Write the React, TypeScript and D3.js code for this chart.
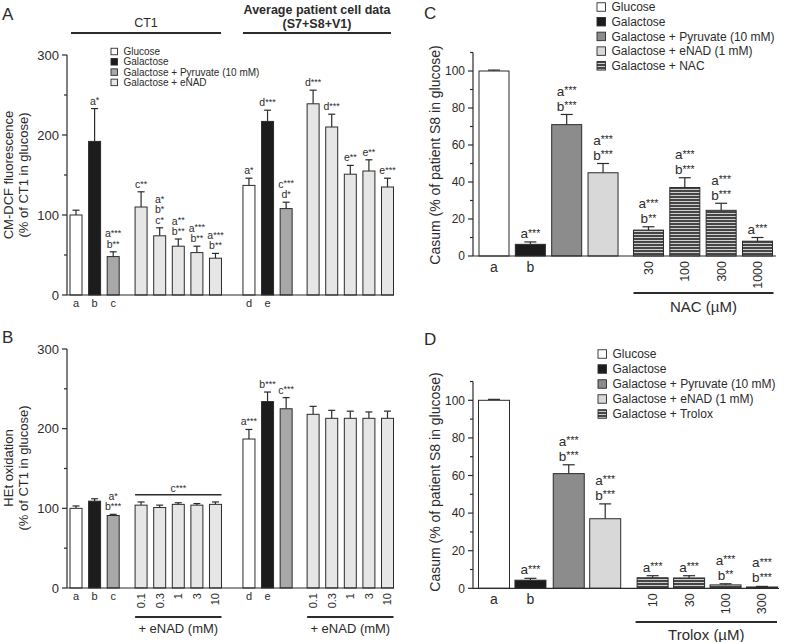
import React, { useEffect, useRef } from "react";
import * as d3 from "d3";

// ---------- Panel A: CM-DCF fluorescence (% of CT1 in glucose) ----------
const aGroups = ["glc", "gal", "pyr", "enad", "enad", "enad", "enad", "enad", "glc", "gal", "pyr", "enad", "enad", "enad", "enad", "enad"];
const aSlots = [0, 1, 2, 3.5, 4.5, 5.5, 6.5, 7.5, 9.3, 10.3, 11.3, 12.75, 13.75, 14.75, 15.75, 16.75];
const aValues = [100, 192, 48, 110, 74, 61, 53, 46, 137, 217, 108, 239, 210, 151, 155, 135];
const aErrors = [6, 41, 6, 19, 10, 9, 8, 6, 9, 14, 8, 17, 16, 11, 14, 11];
const aStats = [[], ["a*"], ["a***", "b**"], ["c**"], ["a*", "b*", "c*"], ["a**", "b**"], ["a***", "b**"], ["a***", "b**"], ["a*"], ["d***"], ["c***", "d*"], ["d***"], ["d***"], ["e**"], ["e**"], ["e***"]];
const aLetters = ["a", "b", "c", "", "", "", "", "", "d", "e", "", "", "", "", "", ""];
const aLegend = ["Glucose", "Galactose", "Galactose + Pyruvate (10 mM)", "Galactose + eNAD"];

// ---------- Panel B: HEt oxidation ----------
const bValues = [100, 109, 91, 104, 101, 105, 104, 105, 187, 234, 225, 218, 213, 213, 213, 213];
const bErrors = [3, 3, 1.5, 4, 3, 2, 2, 3, 12, 12, 14, 10, 10, 9, 8, 9];
const bStats = [[], [], ["a*", "b***"], [], [], [], [], [], ["a***"], ["b***"], ["c***"], [], [], [], [], []];
const bDoses = ["", "", "", "0.1", "0.3", "1", "3", "10", "", "", "", "0.1", "0.3", "1", "3", "10"];

// ---------- Panel C: Casum with NAC ----------
const cGroups = ["glc", "gal", "pyr", "enad", "stripe", "stripe", "stripe", "stripe"];
const cSlots = [0, 1, 2, 3, 4.25, 5.25, 6.25, 7.25];
const cValues = [100, 6.3, 71, 45, 14, 37, 24.7, 8];
const cErrors = [0.5, 1.3, 5.5, 5, 1.8, 5.3, 3.8, 2];
const cStats = [[], ["a***"], ["a***", "b***"], ["a***", "b***"], ["a***", "b**"], ["a***", "b***"], ["a***", "b***"], ["a***"]];
const cLetters = ["a", "b", "", "", "", "", "", ""];
const cDoses = ["", "", "", "", "30", "100", "300", "1000"];
const cLegend = ["Glucose", "Galactose", "Galactose + Pyruvate (10 mM)", "Galactose + eNAD (1 mM)", "Galactose + NAC"];

// ---------- Panel D: Casum with Trolox ----------
const dSlots = [0, 1, 2.05, 3.05, 4.35, 5.35, 6.35, 7.35];
const dValues = [100, 4.3, 61, 37, 5.6, 5.5, 1.8, 0.7];
const dErrors = [0.5, 1.0, 4.7, 7.9, 1.1, 1.2, 0.6, 0.3];
const dStats = [[], ["a***"], ["a***", "b***"], ["a***", "b***"], ["a***"], ["a***"], ["a***", "b**"], ["a***", "b***"]];
const dDoses = ["", "", "", "", "10", "30", "100", "300"];
const dLegend = ["Glucose", "Galactose", "Galactose + Pyruvate (10 mM)", "Galactose + eNAD (1 mM)", "Galactose + Trolox"];

const FONT = "'Liberation Sans', Arial, sans-serif";
const INK = "#2b2b2b";

const fillsAB: Record<string, string> = { glc: "#ffffff", gal: "#1c1c1c", pyr: "#a8a8a8", enad: "#e6e6e6" };
const fillsCD: Record<string, string> = { glc: "#ffffff", gal: "#1c1c1c", pyr: "#8c8c8c", enad: "#d8d8d8", stripe: "url(#stripes)" };

type G = d3.Selection<SVGGElement, unknown, null, undefined>;

// label like a*** with slightly raised, smaller stars
function statText(g: G, x: number, y: number, s: string, fs: number, sfs: number) {
  const m = s.match(/^([a-z])(\*+)$/);
  const t = g.append("text").attr("x", x).attr("y", y).attr("text-anchor", "middle")
    .style("font-size", fs + "px").attr("fill", INK);
  t.append("tspan").text(m ? m[1] : s);
  if (m) t.append("tspan").attr("dy", -fs * 0.12).style("font-size", sfs + "px").text(m[2]);
}

interface PanelCfg {
  values: number[]; errors: number[]; groups: string[]; slots: number[];
  xRange: [number, number]; yDomain: [number, number]; yRange: [number, number];
  axisX: number; axisEnd: number; barW: number; capW: number; fills: Record<string, string>;
  stats: string[][]; statFs: number; starFs: number; statGap: number; lineH: number;
  yTicks: number[]; yMinor: number[]; tickFs: number;
  letters?: string[]; letterDy?: number; letterFs?: number;
  doses?: string[]; doseFs?: number;
}

function drawPanel(g: G, c: PanelCfg) {
  const x = d3.scaleLinear().domain([c.slots[0], c.slots[c.slots.length - 1]]).range(c.xRange);
  const y = d3.scaleLinear().domain(c.yDomain).range(c.yRange);
  const y0 = y(0);

  // y axis
  g.append("line").attr("x1", c.axisX).attr("x2", c.axisX).attr("y1", y0).attr("y2", y(c.yDomain[1]))
    .attr("stroke", INK).attr("stroke-width", 1.2);
  c.yTicks.forEach((t) => {
    g.append("line").attr("x1", c.axisX - 5).attr("x2", c.axisX).attr("y1", y(t)).attr("y2", y(t)).attr("stroke", INK).attr("stroke-width", 1.2);
    g.append("text").attr("x", c.axisX - 8).attr("y", y(t)).attr("dy", "0.35em").attr("text-anchor", "end")
      .style("font-size", c.tickFs + "px").attr("fill", INK).text(t);
  });
  c.yMinor.forEach((t) => {
    g.append("line").attr("x1", c.axisX - 3).attr("x2", c.axisX).attr("y1", y(t)).attr("y2", y(t)).attr("stroke", INK).attr("stroke-width", 1.2);
  });

  // bars + error bars
  c.values.forEach((v, i) => {
    const cx = x(c.slots[i]);
    const top = y(v + c.errors[i]);
    g.append("line").attr("x1", cx).attr("x2", cx).attr("y1", y(v)).attr("y2", top).attr("stroke", INK).attr("stroke-width", 1.2);
    g.append("line").attr("x1", cx - c.capW / 2).attr("x2", cx + c.capW / 2).attr("y1", top).attr("y2", top).attr("stroke", INK).attr("stroke-width", 1.2);
    g.append("rect").attr("x", cx - c.barW / 2).attr("y", y(v)).attr("width", c.barW).attr("height", Math.max(0.5, y0 - y(v)))
      .attr("fill", c.fills[c.groups[i]]).attr("stroke", INK).attr("stroke-width", 1);
    const st = c.stats[i];
    st.forEach((s, j) => {
      const by = top - c.statGap - (st.length - 1 - j) * c.lineH;
      statText(g, cx, by, s, c.statFs, c.starFs);
    });
    if (c.letters && c.letters[i]) {
      g.append("text").attr("x", cx).attr("y", y0 + (c.letterDy || 12)).attr("text-anchor", "middle")
        .style("font-size", (c.letterFs || 11) + "px").attr("fill", INK).text(c.letters[i]);
    }
    if (c.doses && c.doses[i]) {
      const ty = y0 + 5;
      g.append("text").attr("x", cx).attr("y", ty).attr("dy", "0.36em").attr("text-anchor", "end")
        .attr("transform", `rotate(-90, ${cx}, ${ty})`)
        .style("font-size", (c.doseFs || 11) + "px").attr("fill", INK).text(c.doses[i]);
    }
  });

  // x axis
  g.append("line").attr("x1", c.axisX).attr("x2", c.axisEnd).attr("y1", y0).attr("y2", y0).attr("stroke", INK).attr("stroke-width", 1.2);
  return { x, y };
}

function groupLine(g: G, x1: number, x2: number, ly: number, label: string, fs: number, dy: number) {
  g.append("line").attr("x1", x1).attr("x2", x2).attr("y1", ly).attr("y2", ly).attr("stroke", INK).attr("stroke-width", 2);
  g.append("text").attr("x", (x1 + x2) / 2).attr("y", ly + dy).attr("text-anchor", "middle")
    .style("font-size", fs + "px").attr("fill", INK).text(label);
}

function legend(g: G, items: string[], keys: string[], fills: Record<string, string>, lx: number, ly: number, step: number, sq: number, fs: number) {
  items.forEach((it, i) => {
    const cy = ly + i * step;
    g.append("rect").attr("x", lx).attr("y", cy - sq / 2).attr("width", sq).attr("height", sq)
      .attr("fill", fills[keys[i]]).attr("stroke", INK).attr("stroke-width", 0.9);
    g.append("text").attr("x", lx + sq + 6).attr("y", cy).attr("dy", "0.36em").style("font-size", fs + "px").attr("fill", INK).text(it);
  });
}

function yLabel(g: G, lx: number, cy: number, text: string, fs: number) {
  g.append("text").attr("transform", `translate(${lx},${cy}) rotate(-90)`).attr("text-anchor", "middle")
    .style("font-size", fs + "px").attr("fill", INK).text(text);
}

function panelLetter(g: G, lx: number, ly: number, t: string) {
  g.append("text").attr("x", lx).attr("y", ly).style("font-size", "17px").attr("fill", INK).text(t);
}

const App: React.FC = () => {
  const svgRef = useRef<SVGSVGElement | null>(null);

  useEffect(() => {
    const svg = d3.select(svgRef.current);
    svg.selectAll("*").remove();
    const defs = svg.append("defs");
    const pat = defs.append("pattern").attr("id", "stripes").attr("patternUnits", "userSpaceOnUse").attr("width", 6).attr("height", 3);
    pat.append("rect").attr("width", 6).attr("height", 3).attr("fill", "#454545");
    pat.append("rect").attr("y", 0).attr("width", 6).attr("height", 1).attr("fill", "#cfcfcf");

    const root = svg.append("g").style("font-family", FONT) as unknown as G;

    // ----- A -----
    const gA = root.append("g") as G;
    panelLetter(gA, 2, 20, "A");
    drawPanel(gA, {
      values: aValues, errors: aErrors, groups: aGroups, slots: aSlots,
      xRange: [76, 387.5], yDomain: [0, 300], yRange: [295, 55], axisX: 67, axisEnd: 394,
      barW: 12, capW: 7, fills: fillsAB, stats: aStats, statFs: 10.5, starFs: 9, statGap: 4, lineH: 10.5,
      yTicks: [0, 100, 200, 300], yMinor: [50, 150, 250], tickFs: 13,
      letters: aLetters, letterDy: 12, letterFs: 11,
    });
    groupLine(gA, 71, 221, 33, "CT1", 12.5, -6);
    gA.append("line").attr("x1", 243).attr("x2", 391).attr("y1", 33).attr("y2", 33).attr("stroke", INK).attr("stroke-width", 2);
    gA.append("text").attr("x", 317).attr("y", 14).attr("text-anchor", "middle").style("font-size", "12.5px").style("font-weight", "bold").attr("fill", INK).text("Average patient cell data");
    gA.append("text").attr("x", 317).attr("y", 28).attr("text-anchor", "middle").style("font-size", "12.5px").style("font-weight", "bold").attr("fill", INK).text("(S7+S8+V1)");
    legend(gA, aLegend, ["glc", "gal", "pyr", "enad"], fillsAB, 111, 51.5, 10.3, 6.5, 10);
    yLabel(gA, 13, 175, "CM-DCF fluorescence", 13);
    yLabel(gA, 28, 175, "(% of CT1 in glucose)", 13);

    // ----- B -----
    const gB = root.append("g") as G;
    panelLetter(gB, 2, 343, "B");
    const B = drawPanel(gB, {
      values: bValues, errors: bErrors, groups: aGroups, slots: aSlots,
      xRange: [76, 387.5], yDomain: [0, 300], yRange: [588, 349], axisX: 67, axisEnd: 394,
      barW: 12, capW: 7, fills: fillsAB, stats: bStats, statFs: 10.5, starFs: 9, statGap: 4, lineH: 10.5,
      yTicks: [0, 100, 200, 300], yMinor: [50, 150, 250], tickFs: 13,
      letters: aLetters, letterDy: 12, letterFs: 11, doses: bDoses, doseFs: 11,
    });
    const bx1 = B.x(aSlots[3]) - 6, bx2 = B.x(aSlots[7]) + 6;
    gB.append("line").attr("x1", bx1).attr("x2", bx2).attr("y1", B.y(117)).attr("y2", B.y(117)).attr("stroke", INK).attr("stroke-width", 1.5);
    statText(gB, (bx1 + bx2) / 2, B.y(117) - 3, "c***", 10.5, 9);
    groupLine(gB, bx1, bx2, 617, "+ eNAD (mM)", 13, 16);
    groupLine(gB, B.x(aSlots[11]) - 6, B.x(aSlots[15]) + 6, 617, "+ eNAD (mM)", 13, 16);
    yLabel(gB, 13, 468, "HEt oxidation", 13);
    yLabel(gB, 28, 468, "(% of CT1 in glucose)", 13);

    // ----- C -----
    const gC = root.append("g") as G;
    panelLetter(gC, 424, 19, "C");
    const C = drawPanel(gC, {
      values: cValues, errors: cErrors, groups: cGroups, slots: cSlots,
      xRange: [494, 757.5], yDomain: [0, 110], yRange: [256, 52.5], axisX: 473, axisEnd: 776,
      barW: 30, capW: 12, fills: fillsCD, stats: cStats, statFs: 13.5, starFs: 10.5, statGap: 3.5, lineH: 15,
      yTicks: [0, 20, 40, 60, 80, 100], yMinor: [10, 30, 50, 70, 90, 110], tickFs: 12,
      letters: cLetters, letterDy: 16, letterFs: 14, doses: cDoses, doseFs: 12.5,
    });
    groupLine(gC, C.x(cSlots[4]) - 15, C.x(cSlots[7]) + 16, 293, "NAC (µM)", 15, 19);
    legend(gC, cLegend, ["glc", "gal", "pyr", "enad", "stripe"], fillsCD, 597, 7, 14.7, 8.5, 12);
    yLabel(gC, 440, 155, "Casum (% of patient S8 in glucose)", 14);

    // ----- D -----
    const gD = root.append("g") as G;
    panelLetter(gD, 424, 345, "D");
    const D = drawPanel(gD, {
      values: dValues, errors: dErrors, groups: cGroups, slots: dSlots,
      xRange: [494, 762], yDomain: [0, 110], yRange: [588.3, 381.5], axisX: 473, axisEnd: 779,
      barW: 31, capW: 12, fills: fillsCD, stats: dStats, statFs: 13.5, starFs: 10.5, statGap: 4, lineH: 15,
      yTicks: [0, 20, 40, 60, 80, 100], yMinor: [10, 30, 50, 70, 90, 110], tickFs: 12,
      letters: cLetters, letterDy: 16, letterFs: 14, doses: dDoses, doseFs: 12.5,
    });
    groupLine(gD, D.x(dSlots[4]) - 17, D.x(dSlots[7]) + 15, 622, "Trolox (µM)", 15, 18);
    legend(gD, dLegend, ["glc", "gal", "pyr", "enad", "stripe"], fillsCD, 598, 354, 15, 8.5, 12);
    yLabel(gD, 440, 482, "Casum (% of patient S8 in glucose)", 14);
  }, []);

  return (
    <svg ref={svgRef} width={788} height={642} style={{ position: "absolute", left: 0, top: 0, background: "#fff" }} />
  );
};

export default App;
